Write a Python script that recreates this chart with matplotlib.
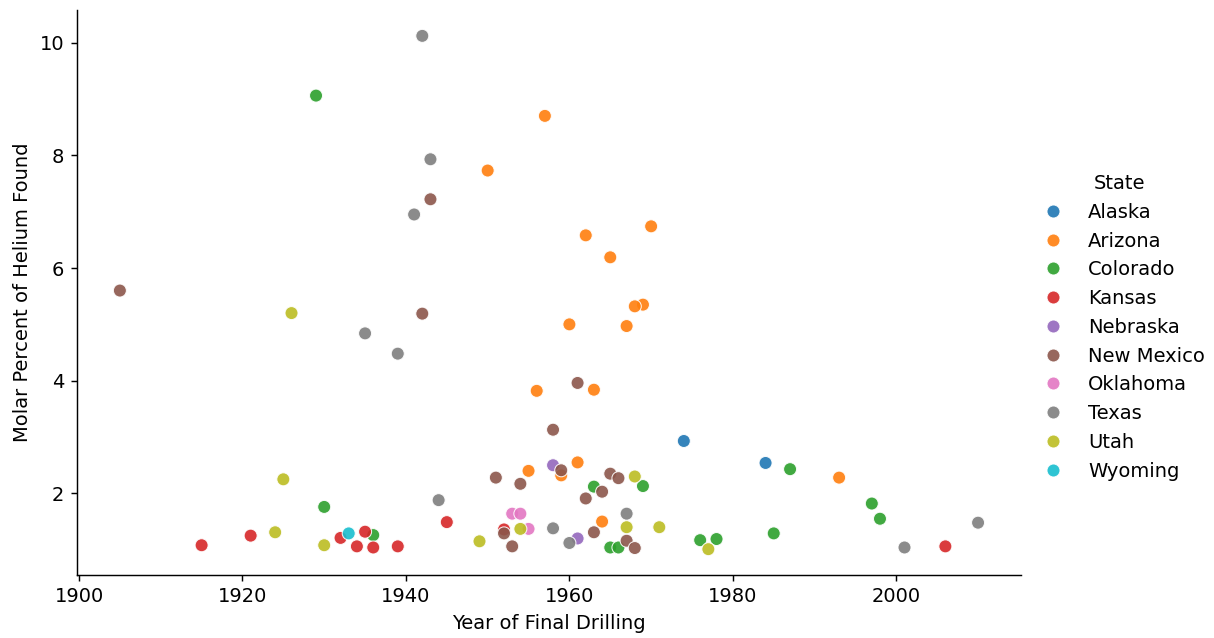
import pandas as pd
import matplotlib
matplotlib.use("Agg")
import matplotlib.pyplot as plt
import seaborn as sns

# Datos: (año de perforacion, % molar de helio) por estado
alaska_year = [1974, 1984]
alaska_he = [2.93, 2.54]

arizona_year = [1957, 1950, 1970, 1962, 1965, 1969, 1968, 1960, 1967, 1956, 1963, 1955, 1961, 1959, 1993, 1964]
arizona_he = [8.70, 7.73, 6.74, 6.58, 6.19, 5.35, 5.32, 5.00, 4.97, 3.82, 3.84, 2.40, 2.55, 2.32, 2.28, 1.50]

colorado_year = [1929, 1930, 1936, 1963, 1969, 1965, 1966, 1976, 1978, 1985, 1987, 1997, 1998]
colorado_he = [9.06, 1.76, 1.26, 2.12, 2.13, 1.04, 1.04, 1.17, 1.19, 1.29, 2.43, 1.82, 1.55]

kansas_year = [1915, 1921, 1932, 1935, 1934, 1936, 1939, 1945, 2006, 1952]
kansas_he = [1.08, 1.25, 1.21, 1.32, 1.06, 1.04, 1.06, 1.49, 1.06, 1.36]

nebraska_year = [1958, 1961]
nebraska_he = [2.50, 1.20]

newmexico_year = [1905, 1943, 1942, 1961, 1958, 1959, 1951, 1954, 1965, 1966, 1964, 1962, 1952, 1953, 1963, 1967, 1968]
newmexico_he = [5.60, 7.22, 5.19, 3.96, 3.13, 2.41, 2.28, 2.17, 2.35, 2.27, 2.03, 1.91, 1.29, 1.06, 1.31, 1.16, 1.03]

oklahoma_year = [1953, 1954, 1955]
oklahoma_he = [1.64, 1.64, 1.37]

texas_year = [1942, 1943, 1941, 1935, 1939, 1944, 1958, 1960, 1967, 2001, 2010]
texas_he = [10.12, 7.93, 6.95, 4.84, 4.48, 1.88, 1.38, 1.12, 1.64, 1.04, 1.48]

utah_year = [1926, 1925, 1924, 1930, 1949, 1954, 1967, 1968, 1971, 1977]
utah_he = [5.20, 2.25, 1.31, 1.08, 1.15, 1.37, 1.40, 2.30, 1.40, 1.01]

wyoming_year = [1933]
wyoming_he = [1.29]

states = ["Alaska", "Arizona", "Colorado", "Kansas", "Nebraska",
          "New Mexico", "Oklahoma", "Texas", "Utah", "Wyoming"]
years = [alaska_year, arizona_year, colorado_year, kansas_year, nebraska_year,
         newmexico_year, oklahoma_year, texas_year, utah_year, wyoming_year]
helium = [alaska_he, arizona_he, colorado_he, kansas_he, nebraska_he,
          newmexico_he, oklahoma_he, texas_he, utah_he, wyoming_he]

# Construir la tabla larga
filas = []
for st, ys, hs in zip(states, years, helium):
    for y, h in zip(ys, hs):
        filas.append({"State": st, "Year": y, "Helium": h})
df = pd.DataFrame(filas)

plt.rcParams["font.size"] = 10.8

fig, ax = plt.subplots(figsize=(1214 / 130, 638 / 130), dpi=130)
fig.subplots_adjust(left=0.0634, right=0.841, bottom=0.099, top=0.984)

sns.scatterplot(data=df, x="Year", y="Helium", hue="State", hue_order=states,
                palette="tab10", s=52, alpha=0.9, ax=ax)

ax.set_xlabel("Year of Final Drilling")
ax.set_ylabel("Molar Percent of Helium Found")
ax.spines["top"].set_visible(False)
ax.spines["right"].set_visible(False)

handles, labels = ax.get_legend_handles_labels()
ax.get_legend().remove()
fig.legend(handles, labels, title="State", loc="center left",
           bbox_to_anchor=(0.837, 0.487), frameon=False, labelspacing=0.5)

fig.savefig("out.png", dpi=130)
